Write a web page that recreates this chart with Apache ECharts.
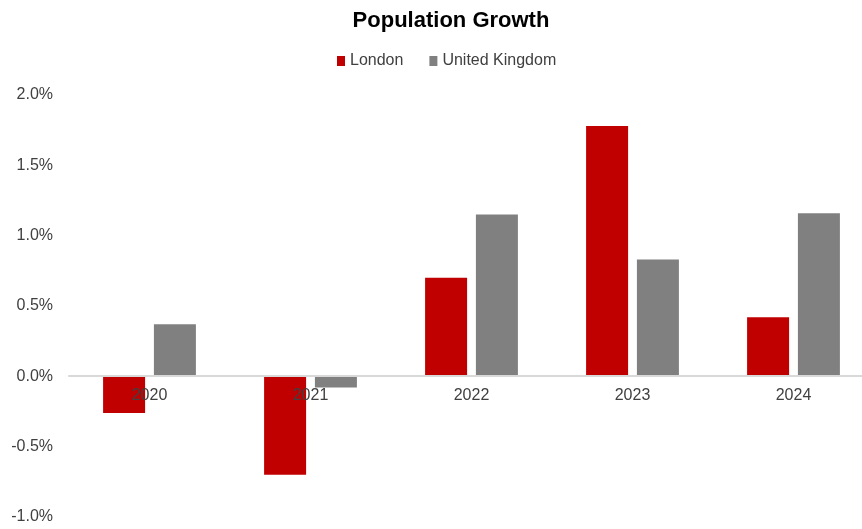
<!DOCTYPE html>
<html>
<head>
<meta charset="utf-8">
<script src="https://cdn.jsdelivr.net/npm/echarts@6/dist/echarts.min.js"></script>
<style>html,body{margin:0;padding:0;background:#fff}#c{width:862px;height:529px}</style>
</head>
<body>
<div id="c"></div>
<script>
const categories = ['2020', '2021', '2022', '2023', '2024'];
const london = [-0.26, -0.70, 0.70, 1.78, 0.42];
const uk = [0.37, -0.08, 1.15, 0.83, 1.16];
const seriesNames = ['London', 'United Kingdom'];

const chart = echarts.init(document.getElementById('c'));
chart.setOption({
  animation: false,
  backgroundColor: '#ffffff',
  title: {
    text: 'Population Growth',
    left: 446, top: 5, textAlign: 'center',
    textStyle: {fontFamily: 'Liberation Sans, Arial', fontSize: 22, fontWeight: 'bold', color: '#000'}
  },
  legend: {
    data: seriesNames,
    left: 332, top: 48,
    icon: 'rect', itemWidth: 8, itemHeight: 10, itemGap: 26,
    textStyle: {fontFamily: 'Liberation Sans, Arial', fontSize: 16, color: '#404040'}
  },
  grid: {left: 69, top: 95, width: 805, height: 422, containLabel: false, outerBoundsMode: 'none'},
  xAxis: {
    type: 'category', data: categories,
    position: 'bottom', offset: -141, z: 10,
    axisLine: {show: true, onZero: false, lineStyle: {color: '#d9d9d9', width: 2}},
    axisTick: {show: false},
    axisLabel: {fontFamily: 'Liberation Sans, Arial', fontSize: 16, color: '#404040', margin: 12}
  },
  yAxis: {
    type: 'value', min: -1, max: 2, interval: 0.5,
    splitLine: {show: false},
    axisLine: {show: false}, axisTick: {show: false},
    axisLabel: {
      fontFamily: 'Liberation Sans, Arial', fontSize: 16, color: '#404040', margin: 16,
      formatter: v => v.toFixed(1) + '%'
    }
  },
  series: [
    {name: seriesNames[0], type: 'bar', data: london, barWidth: 42, barGap: '21%', itemStyle: {color: '#C00000'}, z: 1},
    {name: seriesNames[1], type: 'bar', data: uk, barWidth: 42, itemStyle: {color: '#808080'}, z: 1}
  ]
});
</script>
</body>
</html>
